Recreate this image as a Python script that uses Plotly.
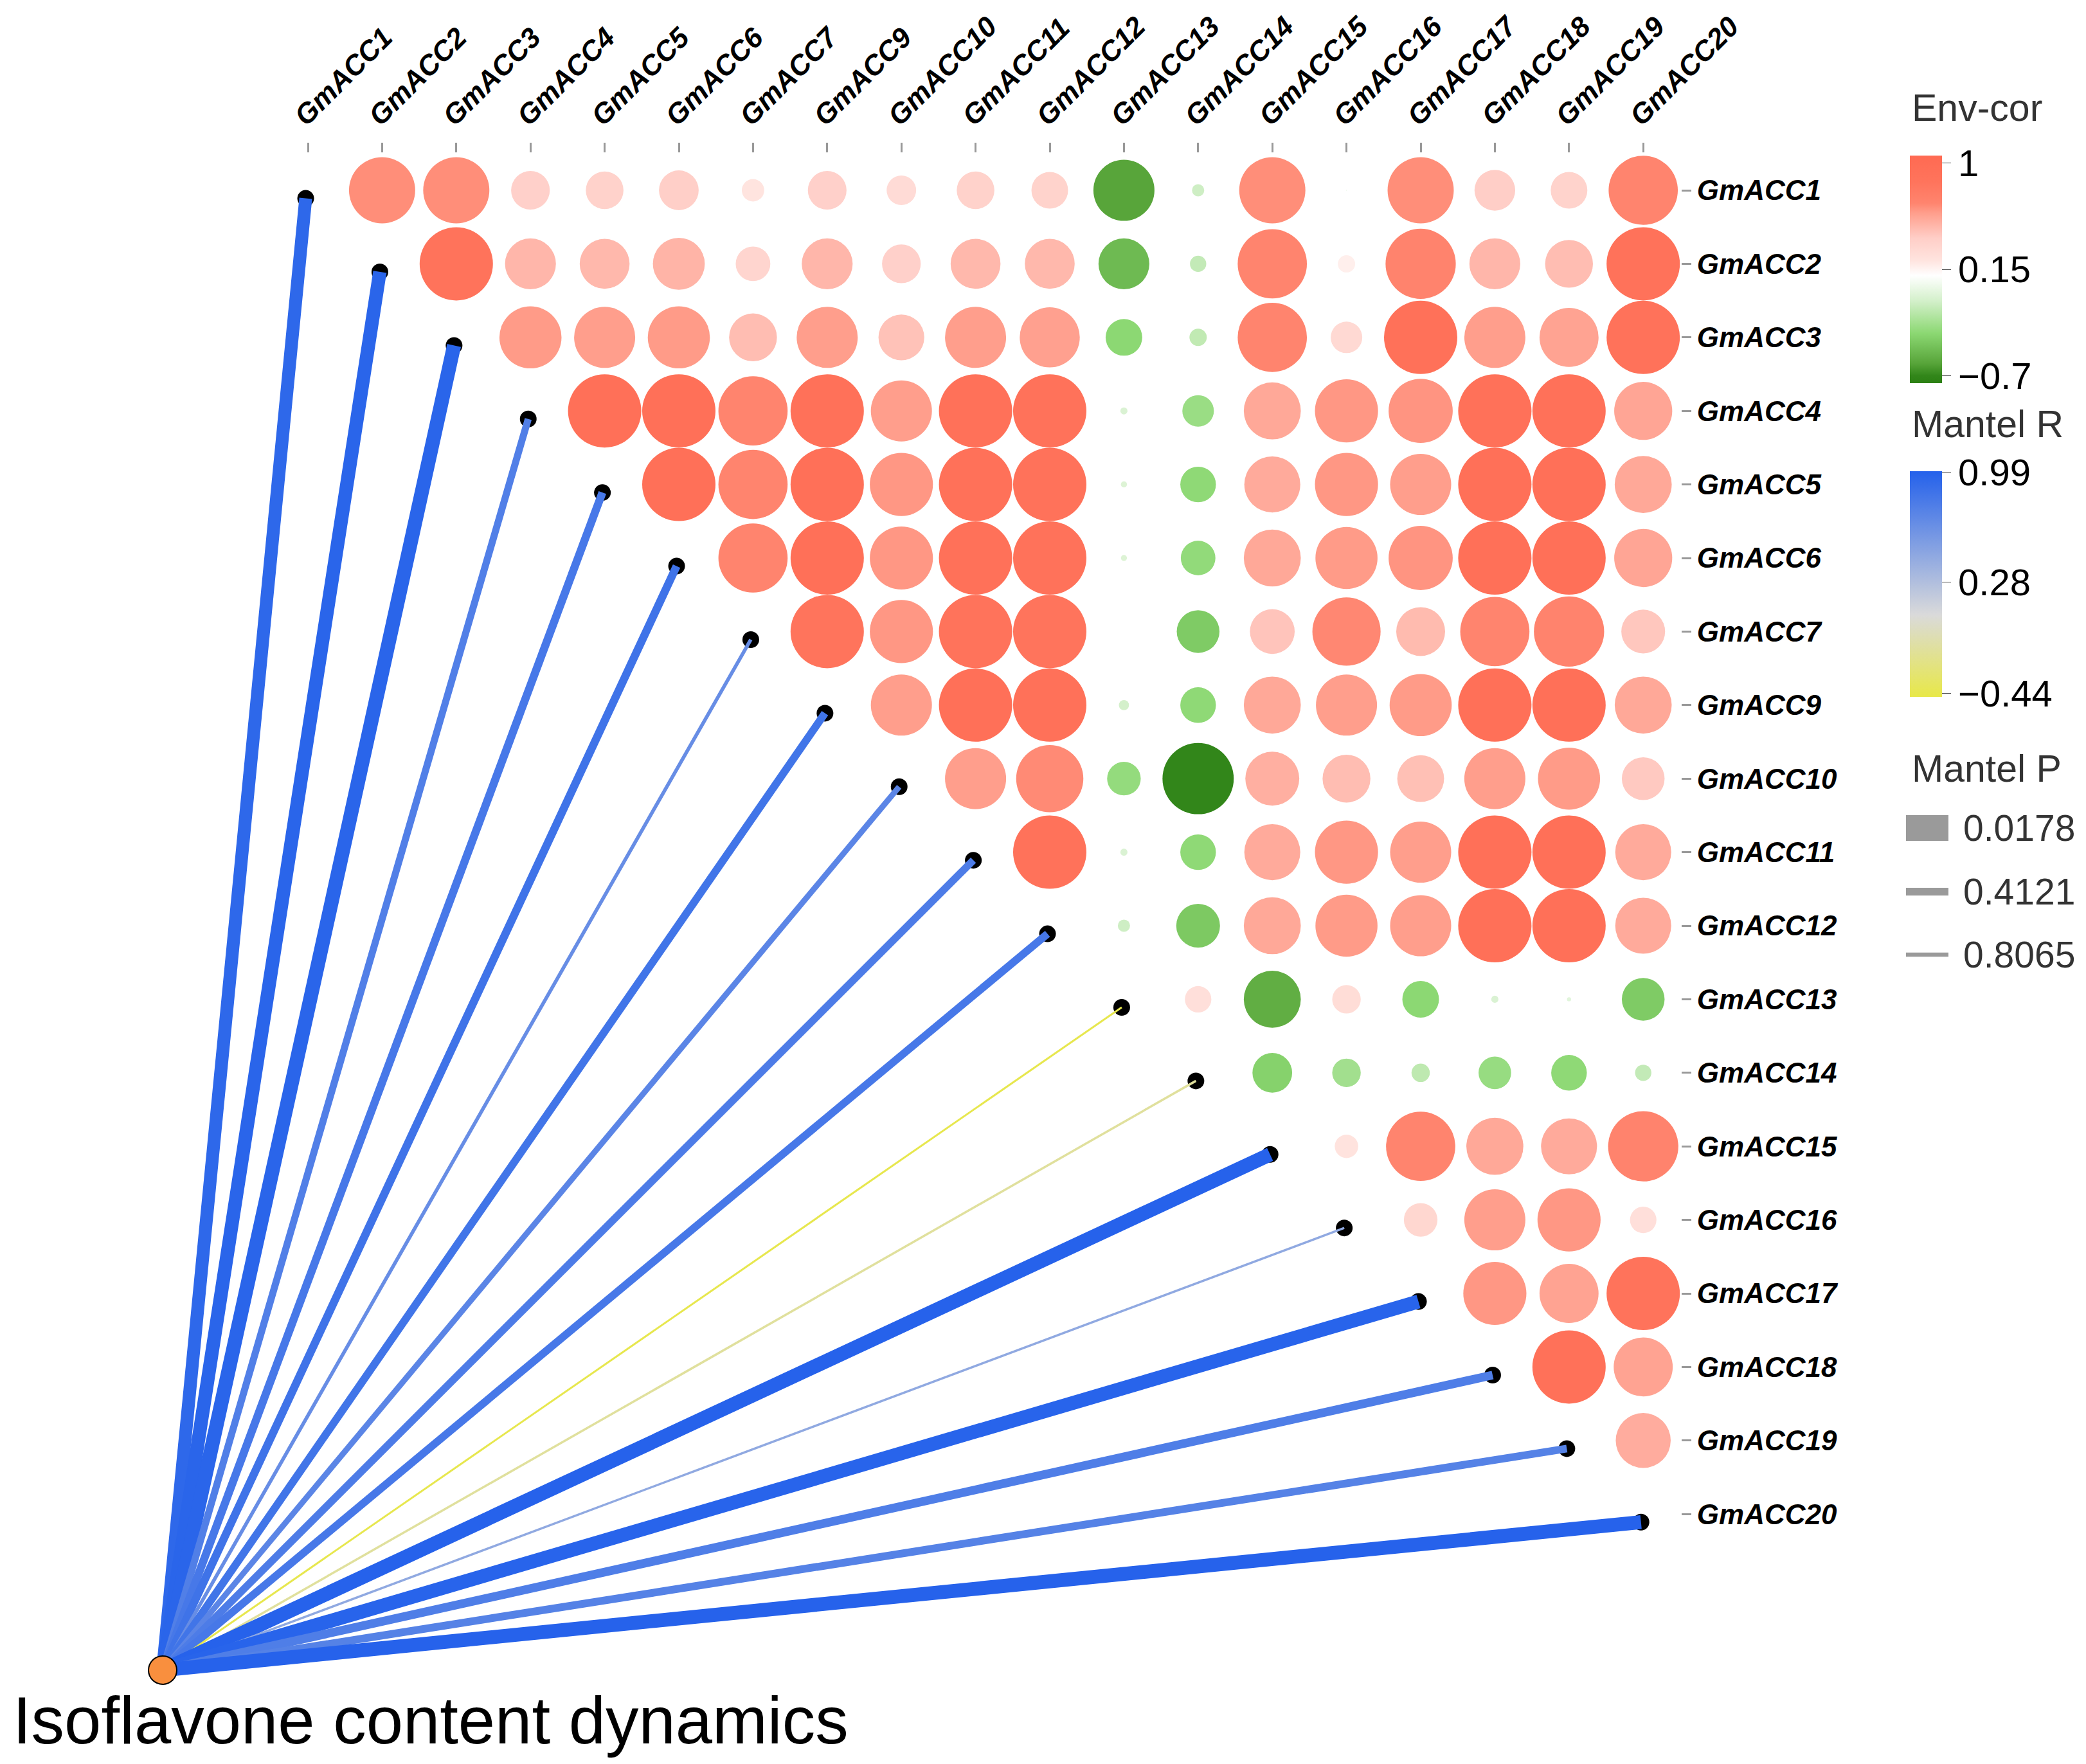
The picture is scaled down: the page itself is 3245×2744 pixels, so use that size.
import plotly.graph_objects as go
from plotly.colors import sample_colorscale

# ---------------- data ----------------
genes = ["GmACC1", "GmACC2", "GmACC3", "GmACC4", "GmACC5", "GmACC6", "GmACC7",
         "GmACC9", "GmACC10", "GmACC11", "GmACC12", "GmACC13", "GmACC14",
         "GmACC15", "GmACC16", "GmACC17", "GmACC18", "GmACC19", "GmACC20"]

# upper triangle of gene-gene correlation: row i holds columns i+1 ... end
env_cor_upper = [
    [0.65, 0.65, 0.38, 0.37, 0.39, 0.22, 0.38, 0.29, 0.37, 0.36, -0.60, -0.12, 0.65, 0.01, 0.65, 0.40, 0.36, 0.68],
    [0.88, 0.50, 0.49, 0.51, 0.34, 0.50, 0.38, 0.49, 0.49, -0.50, -0.16, 0.68, 0.17, 0.69, 0.50, 0.47, 0.90],
    [0.61, 0.60, 0.61, 0.47, 0.60, 0.45, 0.60, 0.59, -0.36, -0.17, 0.68, 0.31, 0.92, 0.60, 0.58, 0.90],
    [0.93, 0.93, 0.68, 0.92, 0.60, 0.92, 0.90, -0.07, -0.31, 0.56, 0.62, 0.63, 0.92, 0.92, 0.57],
    [0.93, 0.68, 0.93, 0.62, 0.92, 0.90, -0.06, -0.35, 0.55, 0.62, 0.60, 0.93, 0.93, 0.56],
    [0.68, 0.93, 0.62, 0.92, 0.90, -0.06, -0.34, 0.56, 0.61, 0.63, 0.93, 0.93, 0.57],
    [0.85, 0.62, 0.88, 0.85, 0.00, -0.42, 0.44, 0.67, 0.48, 0.68, 0.69, 0.43],
    [0.60, 0.93, 0.92, -0.10, -0.35, 0.56, 0.60, 0.61, 0.93, 0.93, 0.56],
    [0.60, 0.66, -0.33, -0.70, 0.53, 0.47, 0.46, 0.60, 0.61, 0.42],
    [0.90, -0.07, -0.35, 0.55, 0.62, 0.60, 0.93, 0.93, 0.55],
    [-0.12, -0.43, 0.56, 0.61, 0.60, 0.93, 0.93, 0.55],
    [0.26, -0.56, 0.28, -0.36, -0.07, -0.04, -0.42],
    [-0.39, -0.28, -0.18, -0.32, -0.35, -0.16],
    [0.23, 0.68, 0.56, 0.55, 0.69],
    [0.33, 0.60, 0.62, 0.26],
    [0.62, 0.58, 0.88],
    [0.92, 0.58],
    [0.54],
    [],
]

mantel_r = [0.95, 0.97, 0.97, 0.77, 0.82, 0.86, 0.66, 0.85, 0.72, 0.79, 0.82,
            -0.44, -0.15, 0.99, 0.45, 0.98, 0.78, 0.75, 0.99]
mantel_p = [0.10, 0.06, 0.02, 0.475, 0.412, 0.41, 0.70, 0.43, 0.557, 0.45, 0.43,
            0.8065, 0.786, 0.0178, 0.786, 0.035, 0.37, 0.43, 0.03]

env_ticks = [-0.7, 0.15, 1.0]
env_tick_text = ["\u22120.7", "0.15", "1"]
mantel_ticks = [-0.44, 0.28, 0.99]
mantel_tick_text = ["\u22120.44", "0.28", "0.99"]
p_breaks = ["0.0178", "0.4121", "0.8065"]
env_label = "Isoflavone content dynamics"

# ---------------- geometry / style ----------------
W, H = 3245, 2744
CW, CH = 115.4, 114.4          # cell size (px)
X0PX, Y0PX = 471, 288          # centre of first cell (px)
XDOM_R, YDOM_T = 2607, 230     # plot area right / top edge (px)
MAXD = 114                     # largest circle diameter (px)
FONT = "Liberation Sans"

# colour bar spans slightly beyond the break range (as ggplot's bar does)
ENV_MIN, ENV_MAX = -0.76, 1.06
env_stops = [(-0.76, "rgb(44,128,20)"), (-0.70, "rgb(50,134,26)"), (-0.60, "rgb(88,165,58)"),
             (-0.36, "rgb(140,216,115)"), (-0.10, "rgb(212,240,203)"), (0.10, "rgb(255,255,255)"),
             (0.22, "rgb(255,228,223)"), (0.40, "rgb(255,206,199)"), (0.60, "rgb(255,158,140)"),
             (0.68, "rgb(255,132,110)"), (0.85, "rgb(255,116,92)"), (1.06, "rgb(255,106,82)")]
env_scale = [[(v - ENV_MIN) / (ENV_MAX - ENV_MIN), c] for v, c in env_stops]

MR_MIN, MR_MAX = -0.46, 1.0
mr_stops = [(-0.46, "rgb(232,232,72)"), (0.07, "rgb(218,218,218)"), (1.0, "rgb(36,97,235)")]
mr_scale = [[(v - MR_MIN) / (MR_MAX - MR_MIN), c] for v, c in mr_stops]

P_MIN, P_MAX = 0.0178, 0.8065


def line_width(p):
    return 3 + 19 * (P_MAX - p) / (P_MAX - P_MIN)


# node for the environmental variable (px -> data)
NODE_X = (245 - X0PX) / CW
NODE_Y = (2590 - Y0PX) / CH

n = len(genes)
cx, cy, cv, cs = [], [], [], []
for i, row in enumerate(env_cor_upper):
    for k, v in enumerate(row):
        j = i + 1 + k
        cx.append(j)
        cy.append(i)
        cv.append(v)
        cs.append(MAXD * min(1.0, abs(v) / 0.72))


def cbar(ypx, lenpx, tickvals, ticktext):
    return dict(x=2963 / W, xref="container", xanchor="left", xpad=0, ypad=0,
                y=1 - ypx / H, yref="container", yanchor="middle",
                len=lenpx, lenmode="pixels", thickness=50, thicknessmode="pixels",
                outlinewidth=0, tickvals=tickvals, ticktext=ticktext,
                ticks="outside", ticklen=14, tickwidth=0,
                tickfont=dict(family=FONT, size=58, color="black"))


fig = go.Figure()

# correlation circles
fig.add_trace(go.Scatter(
    x=cx, y=cy, mode="markers",
    marker=dict(size=cs, color=cv, colorscale=env_scale, cmin=ENV_MIN, cmax=ENV_MAX,
                line=dict(width=0), opacity=1, showscale=True,
                colorbar=cbar(411, 354, env_ticks, env_tick_text)),
    hoverinfo="skip", showlegend=False))

# endpoint positions on the diagonal
ex = [i - 0.03 for i in range(n)]
ey = [i + 0.11 for i in range(n)]

# hidden carrier for the Mantel R colour bar (covered by the black dots)
fig.add_trace(go.Scatter(
    x=ex, y=ey, mode="markers",
    marker=dict(size=2, color=mantel_r, colorscale=mr_scale, cmin=MR_MIN, cmax=MR_MAX,
                showscale=True, colorbar=cbar(900, 351, mantel_ticks, mantel_tick_text)),
    hoverinfo="skip", showlegend=False))

# black end dots
fig.add_trace(go.Scatter(x=ex, y=ey, mode="markers",
                         marker=dict(size=26, color="black"),
                         hoverinfo="skip", showlegend=False))

# links
frac = [(r - MR_MIN) / (MR_MAX - MR_MIN) for r in mantel_r]
cols = sample_colorscale(mr_scale, frac)
for i in range(n):
    fig.add_trace(go.Scatter(
        x=[NODE_X, ex[i]], y=[NODE_Y, ey[i]], mode="lines",
        line=dict(color=cols[i], width=line_width(mantel_p[i])),
        hoverinfo="skip", showlegend=False))

# environment node
fig.add_trace(go.Scatter(x=[NODE_X], y=[NODE_Y], mode="markers",
                         marker=dict(size=44, color="#F98F3E", line=dict(color="black", width=2)),
                         hoverinfo="skip", showlegend=False))

ann = []
ann.append(dict(x=10 / W, y=1 - 2668 / H, xref="paper", yref="paper", xanchor="left",
                yanchor="middle", text=env_label, showarrow=False,
                font=dict(family=FONT, size=103, color="black")))
for txt, ypx in [("Env-cor", 160), ("Mantel R", 652), ("Mantel P", 1188)]:
    ann.append(dict(x=2964 / W, y=1 - ypx / H, xref="paper", yref="paper", xanchor="left",
                    yanchor="middle", text=txt, showarrow=False,
                    font=dict(family=FONT, size=59, color="#333333")))

shapes = []
for lab, ypx, hpx in zip(p_breaks, [1280, 1379, 1477], [40, 12, 6.5]):
    shapes.append(dict(type="rect", xref="paper", yref="paper",
                       x0=2957 / W, x1=3023 / W,
                       y0=1 - (ypx + hpx / 2) / H, y1=1 - (ypx - hpx / 2) / H,
                       fillcolor="#9a9a9a", line=dict(width=0)))
    ann.append(dict(x=3044 / W, y=1 - ypx / H, xref="paper", yref="paper", xanchor="left",
                    yanchor="middle", text=lab, showarrow=False,
                    font=dict(family=FONT, size=57, color="#333333")))

label_font = dict(family=FONT, size=44, color="black", style="italic", weight="bold")
fig.update_layout(
    width=W, height=H, margin=dict(l=0, r=0, t=0, b=0, autoexpand=False),
    paper_bgcolor="white", plot_bgcolor="white",
    annotations=ann, shapes=shapes, hovermode=False,
    xaxis=dict(domain=[0, XDOM_R / W], range=[-X0PX / CW, (XDOM_R - X0PX) / CW],
               side="top", tickvals=list(range(n)), ticktext=genes, tickangle=-45,
               ticks="outside", ticklen=15, tickwidth=3, tickcolor="#999999",
               tickfont=label_font, automargin=False, ticklabelshift=-18,
               showgrid=False, zeroline=False, showline=False),
    yaxis=dict(domain=[0, 1 - YDOM_T / H], range=[(H - Y0PX) / CH, (YDOM_T - Y0PX) / CH],
               side="right", tickvals=list(range(n)), ticktext=genes,
               ticks="outside", ticklen=15, tickwidth=3, tickcolor="#999999",
               tickfont=label_font, automargin=False,
               showgrid=False, zeroline=False, showline=False),
)

fig.write_html("out.html")
